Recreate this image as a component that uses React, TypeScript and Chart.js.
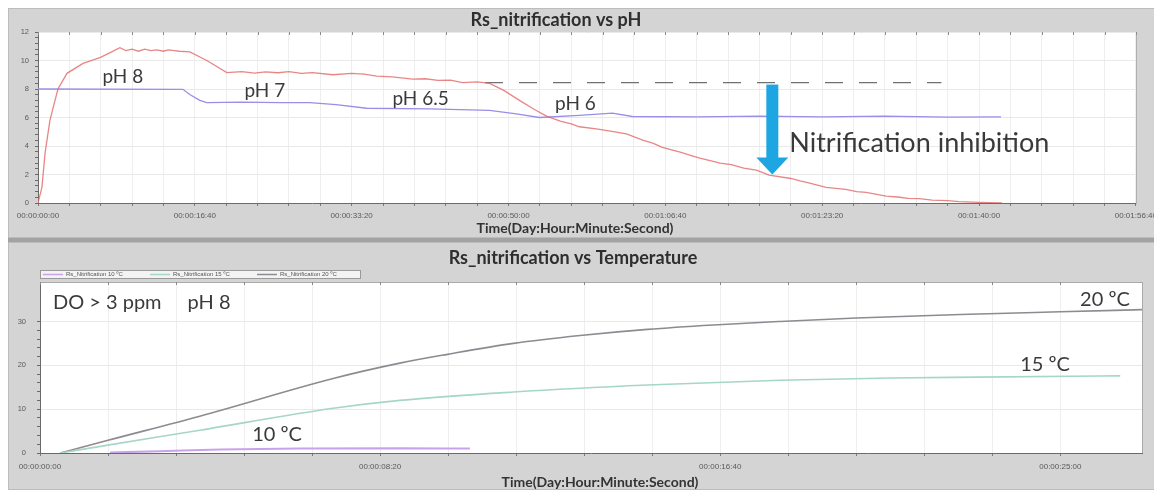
import React, { useEffect, useRef } from "react";
import { Chart, registerables } from "chart.js";

Chart.register(...registerables);

// ---------------- Top panel: Rs_nitrification vs pH ----------------
const rsPhTime = [0, 25, 45, 76, 127, 185, 287, 395, 470, 522, 560, 600, 640, 680, 720, 758, 800, 830, 870, 900, 968, 1076, 1204, 1300, 1380, 1450, 1530, 1600, 1680, 1750, 1879, 2000, 2080, 2159, 2260, 2389, 2470, 2550, 2630, 2707, 2800, 2879, 2970, 3070, 3160, 3242, 3330, 3400, 3452, 3560, 3650, 3752, 3860, 3920, 3981, 4100, 4160, 4220, 4350, 4420, 4500, 4580, 4662, 4800, 4860, 4920, 5025, 5150, 5220, 5280, 5408, 5480, 5550, 5620, 5700, 5800, 5873, 6000, 6146];
const rsPhValue = [0, 1.1, 3.5, 5.8, 8.0, 9.1, 9.8, 10.2, 10.6, 10.9, 10.7, 10.8, 10.65, 10.8, 10.7, 10.75, 10.65, 10.75, 10.7, 10.65, 10.6, 10.0, 9.15, 9.22, 9.12, 9.2, 9.14, 9.22, 9.1, 9.15, 9.0, 9.1, 9.05, 8.9, 8.85, 8.7, 8.72, 8.6, 8.62, 8.45, 8.5, 8.4, 7.9, 7.2, 6.6, 6.1, 5.75, 5.55, 5.35, 5.2, 5.05, 4.85, 4.4, 4.2, 3.9, 3.55, 3.35, 3.15, 2.8, 2.7, 2.45, 2.3, 1.95, 1.72, 1.55, 1.4, 1.1, 0.95, 0.8, 0.75, 0.48, 0.42, 0.33, 0.3, 0.2, 0.16, 0.1, 0.05, 0];
const phTime = [0, 924, 970, 1032, 1076, 1300, 1550, 1732, 1900, 2096, 2500, 2879, 3050, 3197, 3452, 3662, 3790, 4200, 4600, 5000, 5400, 5800, 6140];
const phValue = [8.0, 7.98, 7.6, 7.2, 7.05, 7.08, 7.05, 7.05, 6.9, 6.65, 6.6, 6.5, 6.25, 6.0, 6.15, 6.3, 6.07, 6.05, 6.1, 6.05, 6.1, 6.02, 6.05];
const refTime = [2850, 5760];
const refValue = [8.45, 8.45];
const topXMajor = [0, 1000, 2000, 3000, 4000, 5000, 6000, 7000];
const topYMajor = [0, 2, 4, 6, 8, 10, 12];

// ---------------- Bottom panel: Rs_nitrification vs Temperature ----------------
const t10Time = [103, 176, 265, 382, 529, 632];
const t10Value = [0.1, 0.4, 0.8, 1.05, 1.1, 1.0];
const t15Time = [30, 100, 235, 431, 529, 696, 893, 1088, 1250, 1378, 1588];
const t15Value = [0, 1.8, 5.2, 10.2, 12.0, 13.9, 15.5, 16.6, 17.1, 17.3, 17.6];
const t20Time = [30, 100, 235, 431, 529, 599, 696, 794, 893, 990, 1088, 1200, 1353, 1500, 1621];
const t20Value = [0, 2.9, 8.4, 17.0, 20.5, 22.5, 25.0, 26.8, 28.2, 29.2, 30.0, 30.8, 31.6, 32.2, 32.7];
const bottomXMajor = [0, 500, 1000, 1500];
const bottomYMajor = [0, 10, 20, 30];

const zip = (xs: number[], ys: number[]) => xs.map((x, i) => ({ x, y: ys[i] }));
const range = (a: number, b: number, step: number) => {
  const out: number[] = [];
  const n = Math.round((b - a) / step);
  for (let i = 0; i <= n; i++) out.push(Math.round((a + i * step) * 1000) / 1000);
  return out;
};
const fmtTime = (s: number) => {
  const d = Math.floor(s / 86400);
  const h = Math.floor((s % 86400) / 3600);
  const m = Math.floor((s % 3600) / 60);
  const sec = Math.round(s % 60);
  return [d, h, m, sec].map((n) => String(n).padStart(2, "0")).join(":");
};

const TEXT = "#3a3a3a";
const NOTE_FONT = "Lato";

const decorPlugin = {
  id: "decor",
  beforeDraw(chart: any, _args: any, o: any) {
    const { ctx, chartArea: a, width, height } = chart;
    ctx.save();
    ctx.fillStyle = "#d4d4d4";
    ctx.fillRect(0, 0, width, height);
    ctx.strokeStyle = "#bcbcbc";
    ctx.lineWidth = 1;
    ctx.strokeRect(0.5, 0.5, width - 1, height - 1);
    ctx.fillStyle = "#ffffff";
    ctx.fillRect(a.left, a.top, a.right - a.left, a.bottom - a.top);
    ctx.strokeStyle = "#a9a9a9";
    ctx.strokeRect(a.left + 0.5, a.top + 0.5, a.right - a.left, a.bottom - a.top);
    // titles
    ctx.fillStyle = "#2e2e2e";
    ctx.textAlign = "center";
    ctx.textBaseline = "middle";
    ctx.font = `bold ${o.titleSize}px ${NOTE_FONT}`;
    ctx.fillText(o.title, o.titleX, o.titleY);
    ctx.font = `bold 14px ${NOTE_FONT}`;
    ctx.fillStyle = "#333";
    ctx.fillText(o.axisTitle, o.axisTitleX, o.axisTitleY);
    ctx.restore();
  },
  afterDraw(chart: any, _args: any, o: any) {
    const { ctx, chartArea: a, scales } = chart;
    const xs = scales.x, ys = scales.y;
    ctx.save();
    // tick marks on top border
    ctx.strokeStyle = "#8a8a8a";
    ctx.lineWidth = 1;
    xs.ticks.forEach((t: any) => {
      const px = Math.round(xs.getPixelForValue(t.value)) + 0.5;
      ctx.beginPath();
      ctx.moveTo(px, a.top);
      ctx.lineTo(px, a.top + 3);
      ctx.stroke();
    });
    // arrow
    if (o.arrow) {
      const px = xs.getPixelForValue(o.arrow.x);
      const y1 = ys.getPixelForValue(o.arrow.from);
      const y2 = ys.getPixelForValue(o.arrow.to);
      ctx.fillStyle = "#1ea6e2";
      ctx.fillRect(px - 6, y1 + 2, 12, y2 - y1 - 18);
      ctx.beginPath();
      ctx.moveTo(px - 16, y2 - 17);
      ctx.lineTo(px + 16, y2 - 17);
      ctx.lineTo(px, y2);
      ctx.closePath();
      ctx.fill();
    }
    // notes
    ctx.fillStyle = TEXT;
    ctx.textBaseline = "middle";
    (o.notes || []).forEach((n: any) => {
      ctx.font = `${n.size}px ${NOTE_FONT}`;
      ctx.textAlign = n.align || "center";
      ctx.fillText(n.text, xs.getPixelForValue(n.x), ys.getPixelForValue(n.y));
    });
    // legend
    if (o.legend) {
      const L = o.legend;
      ctx.fillStyle = "#f3f3f3";
      ctx.fillRect(L.x, L.y, L.w, L.h);
      ctx.strokeStyle = "#9a9a9a";
      ctx.strokeRect(L.x + 0.5, L.y + 0.5, L.w, L.h);
      ctx.font = "6px 'Liberation Sans'";
      ctx.textAlign = "left";
      ctx.textBaseline = "middle";
      chart.data.datasets.forEach((ds: any, i: number) => {
        const x0 = L.x + 3 + i * L.gap;
        const cy = L.y + L.h / 2 + 0.5;
        ctx.strokeStyle = ds.borderColor;
        ctx.lineWidth = 1.5;
        ctx.beginPath();
        ctx.moveTo(x0, cy);
        ctx.lineTo(x0 + 20, cy);
        ctx.stroke();
        ctx.fillStyle = "#555";
        ctx.fillText(ds.label, x0 + 23, cy);
      });
    }
    ctx.restore();
  },
};

function buildOptions(cfg: any) {
  const isMajor = (arr: number[], v: number) => arr.some((m) => Math.abs(m - v) < 1e-6);
  return {
    responsive: false,
    animation: false,
    events: [],
    layout: { padding: cfg.padding },
    plugins: {
      legend: { display: false },
      title: { display: false },
      tooltip: { enabled: false },
      decor: cfg.decor,
    },
    scales: {
      x: {
        type: "linear",
        min: cfg.xMin,
        max: cfg.xMax,
        afterBuildTicks: (s: any) => {
          s.ticks = range(cfg.xMin, cfg.xMajor[cfg.xMajor.length - 1], cfg.xMinor).map((v) => ({ value: v }));
        },
        afterFit: (s: any) => {
          s.height = cfg.xHeight;
        },
        ticks: {
          autoSkip: false,
          maxRotation: 0,
          padding: cfg.xPad,
          color: "#5a5a5a",
          font: { family: "'Liberation Sans'", size: 8 },
          callback: (v: number) => (isMajor(cfg.xMajor, v) ? fmtTime(v) : ""),
        },
        grid: { color: "#eeeeee", tickColor: "#7a7a7a", tickLength: 3, lineWidth: 1 },
        border: { color: "#6a6a6a", width: 1 },
      },
      y: {
        type: "linear",
        min: cfg.yMin,
        max: cfg.yMax,
        afterBuildTicks: (s: any) => {
          s.ticks = range(cfg.yMin, cfg.yMajor[cfg.yMajor.length - 1], cfg.yMinor).map((v) => ({ value: v }));
        },
        afterFit: (s: any) => {
          s.width = cfg.yWidth;
        },
        ticks: {
          autoSkip: false,
          padding: cfg.yPad,
          color: "#5a5a5a",
          font: { family: "'Liberation Sans'", size: 7.5 },
          callback: (v: number) => (isMajor(cfg.yMajor, v) ? String(v) : ""),
        },
        grid: {
          color: (c: any) => (c.tick && isMajor(cfg.yMajor, c.tick.value) ? "#e9e9e9" : "rgba(0,0,0,0)"),
          tickColor: "#6a6a6a",
          tickLength: 3,
          lineWidth: 1,
        },
        border: { color: "#6a6a6a", width: 1 },
      },
    },
  };
}

function useChart(ref: React.RefObject<HTMLCanvasElement>, make: () => any) {
  useEffect(() => {
    if (!ref.current) return;
    const chart = new Chart(ref.current, make());
    return () => chart.destroy();
  }, []);
}

export default function App() {
  const topRef = useRef<HTMLCanvasElement>(null);
  const botRef = useRef<HTMLCanvasElement>(null);

  useChart(topRef, () => ({
    type: "line",
    data: {
      datasets: [
        { label: "Rs_nitrification", data: zip(rsPhTime, rsPhValue), borderColor: "rgba(226,104,104,0.8)", borderWidth: 1.3, pointRadius: 0, tension: 0 },
        { label: "pH", data: zip(phTime, phValue), borderColor: "#9a8ee6", borderWidth: 1.3, pointRadius: 0, tension: 0 },
        { label: "reference", data: zip(refTime, refValue), borderColor: "#707070", borderWidth: 1.3, borderDash: [18, 16], pointRadius: 0 },
      ],
    },
    options: buildOptions({
      padding: { left: 0, top: 24, right: 26, bottom: 0 },
      xMin: 0, xMax: 7000, xMajor: topXMajor, xMinor: 200, xHeight: 35, xPad: 5,
      yMin: 0, yMax: 12, yMajor: topYMajor, yMinor: 0.4, yWidth: 30, yPad: 6,
      decor: {
        title: "Rs_nitrification vs pH", titleSize: 18, titleX: 548, titleY: 12,
        axisTitle: "Time(Day:Hour:Minute:Second)", axisTitleX: 567, axisTitleY: 220,
        arrow: { x: 4682, from: 8.45, to: 2.0 },
        notes: [
          { text: "pH 8", x: 541, y: 8.86, size: 19 },
          { text: "pH 7", x: 1446, y: 7.9, size: 19 },
          { text: "pH 6.5", x: 2439, y: 7.33, size: 19 },
          { text: "pH 6", x: 3427, y: 6.98, size: 19 },
          { text: "Nitrification inhibition", x: 4790, y: 4.19, size: 27, align: "left" },
        ],
      },
    }),
    plugins: [decorPlugin],
  }));

  useChart(botRef, () => ({
    type: "line",
    data: {
      datasets: [
        { label: "Rs_Nitrification 10 ºC", data: zip(t10Time, t10Value), borderColor: "#c9a3ea", borderWidth: 2, pointRadius: 0, tension: 0.4, cubicInterpolationMode: "monotone" },
        { label: "Rs_Nitrification 15 ºC", data: zip(t15Time, t15Value), borderColor: "#a6d6c6", borderWidth: 1.6, pointRadius: 0, tension: 0.4, cubicInterpolationMode: "monotone" },
        { label: "Rs_Nitrification 20 ºC", data: zip(t20Time, t20Value), borderColor: "#8e8a92", borderWidth: 1.6, pointRadius: 0, tension: 0.4, cubicInterpolationMode: "monotone" },
      ],
    },
    options: buildOptions({
      padding: { left: 0, top: 40, right: 20, bottom: 0 },
      xMin: 0, xMax: 1620, xMajor: bottomXMajor, xMinor: 100, xHeight: 37, xPad: 6,
      yMin: 0, yMax: 39, yMajor: bottomYMajor, yMinor: 2, yWidth: 32, yPad: 11,
      decor: {
        title: "Rs_nitrification vs Temperature", titleSize: 18, titleX: 565, titleY: 16,
        axisTitle: "Time(Day:Hour:Minute:Second)", axisTitleX: 592, axisTitleY: 240,
        legend: { x: 32, y: 28, w: 320, h: 8, gap: 107 },
        notes: [
          { text: "DO > 3 ppm", x: 19, y: 34.3, size: 20, align: "left" },
          { text: "pH 8", x: 217, y: 34.3, size: 20, align: "left" },
          { text: "20 ºC", x: 1529, y: 35.0, size: 20, align: "left" },
          { text: "15 ºC", x: 1441, y: 20.2, size: 20, align: "left" },
          { text: "10 ºC", x: 312, y: 4.1, size: 20, align: "left" },
        ],
      },
    }),
    plugins: [decorPlugin],
  }));

  return (
    <div style={{ width: 1154, background: "#a3a3a3" }}>
      <canvas ref={topRef} width={1154} height={230} style={{ display: "block" }} />
      <canvas ref={botRef} width={1154} height={248} style={{ display: "block", marginTop: 4 }} />
    </div>
  );
}
